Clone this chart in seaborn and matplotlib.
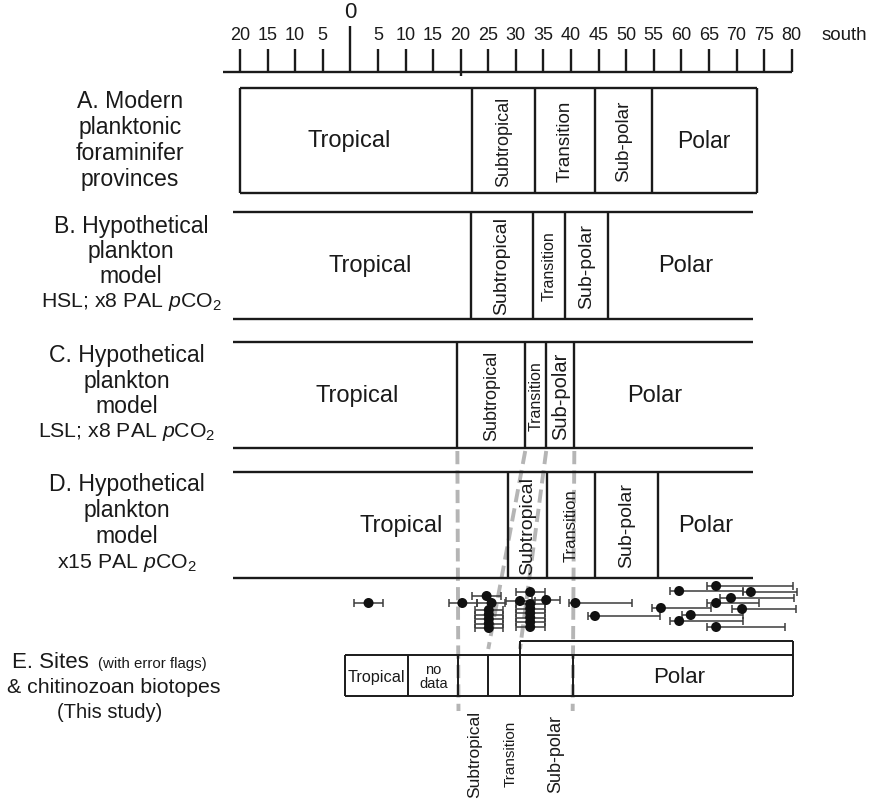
import numpy as np
import pandas as pd
import matplotlib
matplotlib.use("Agg")
import matplotlib.pyplot as plt
import seaborn as sns

# ---------------- data ----------------
tick_lats = list(range(-20, 81, 5))
tick_labels = ["20", "15", "10", "5", "0", "5", "10", "15", "20", "25", "30", "35",
               "40", "45", "50", "55", "60", "65", "70", "75", "80"]

prov_names = ["Tropical", "Subtropical", "Transition", "Sub-polar", "Polar"]
A_bounds = [-20.0, 22.05, 33.5, 44.35, 54.6, 73.7]
B_bounds = [-21.3, 21.9, 33.1, 38.9, 46.7, 73.0]
C_bounds = [-21.3, 19.4, 31.7, 35.5, 40.6, 73.0]
D_bounds = [-21.3, 28.5, 35.7, 44.35, 55.8, 73.0]

E_cells = ["Tropical", "no\ndata", "", "", "", "Polar"]
E_bounds = [-1.0, 10.5, 19.6, 25.0, 30.75, 40.3, 80.3]
E_upper = [30.75, 80.3]
E_below_names = ["Subtropical", "Transition", "Sub-polar"]

site_lat = [3.3, 20.3, 24.7, 25.6, 25.1, 25.1, 25.1, 25.1, 25.1,
            32.6, 30.75, 35.5, 32.6, 32.6, 32.6, 32.6, 32.6, 32.6,
            40.8, 44.35, 56.3, 59.6, 66.3, 72.6, 69.0, 66.3, 71.0, 61.7, 59.6, 66.3]
site_lo = [0.7, 17.8, 22.1, 22.9, 22.6, 22.6, 22.6, 22.6, 22.6,
           30.0, 28.3, 32.9, 30.0, 30.0, 30.0, 30.0, 30.0, 30.0,
           39.6, 43.1, 54.6, 57.9, 64.6, 71.2, 67.0, 64.6, 69.1, 60.1, 57.9, 64.6]
site_hi = [6.0, 22.9, 27.3, 28.0, 27.7, 27.7, 27.7, 27.7, 27.7,
           35.2, 33.5, 38.0, 35.2, 35.2, 35.2, 35.2, 35.2, 35.2,
           51.0, 56.1, 65.4, 71.2, 80.3, 81.0, 80.5, 74.1, 80.8, 71.2, 71.2, 78.8]
site_row = [604, 604, 597, 604, 611, 615.5, 620, 624.5, 629,
            593, 602, 601, 605, 609.5, 614, 618.5, 623, 628,
            604, 617, 609, 592, 587, 593, 599, 604, 610, 616, 622, 628]

# ---------------- layout / style ----------------
W, H = 876, 803
PX0, PXDEG = 240.0, 5.517          # pixel of 20N and pixels per degree


def X(px):
    return (px - PX0) / PXDEG - 20.0


sns.set_theme(style="white")
plt.rcParams["font.family"] = ["Liberation Sans", "DejaVu Sans"]
plt.rcParams["mathtext.fontset"] = "custom"
plt.rcParams["mathtext.rm"] = "Liberation Sans"
plt.rcParams["mathtext.it"] = "Liberation Sans:italic"

fig = plt.figure(figsize=(W / 100, H / 100), dpi=100)
ax = fig.add_axes([0, 0, 1, 1])
ax.set_xlim(X(0), X(W))
ax.set_ylim(H, 0)
ax.axis("off")

K = "#1a1a1a"
LW = 1.7

# top latitude scale
ax.hlines(73, X(223), tick_lats[-1], color=K, lw=LW)
for lat, lab in zip(tick_lats, tick_labels):
    if lat == 0:
        ax.vlines(lat, 27, 73, color=K, lw=LW)
        ax.text(lat, 13, lab, ha="center", va="center", fontsize=16, color=K)
    else:
        ax.vlines(lat, 50, 73 if lat != 20 else 77, color=K, lw=LW)
        ax.text(lat, 35, lab, ha="center", va="center", fontsize=13, color=K)
ax.text(X(822), 35, "south", ha="left", va="center", fontsize=13.5, color=K)

# panels A-D
panels = [
    (A_bounds, 89, 194, True, {0: X(349)}, [17, 13, 13.5, 13.5, 16.5]),
    (B_bounds, 213, 320, False, {0: X(370), 4: X(686)}, [17, 14, 11.5, 14, 17]),
    (C_bounds, 343, 449, False, {0: X(357), 4: X(655)}, [17, 13, 11.5, 14.5, 17]),
    (D_bounds, 473, 579, False, {0: X(401)}, [17, 14, 12, 14, 17]),
]
for bounds, y0, y1, boxed, xover, sizes in panels:
    ax.hlines([y0, y1], bounds[0], bounds[-1], color=K, lw=LW)
    inner = bounds[1:-1]
    ax.vlines(inner, y0, y1, color=K, lw=LW)
    if boxed:
        ax.vlines([bounds[0], bounds[-1]], y0, y1, color=K, lw=LW)
    ym = (y0 + y1) / 2
    for i, name in enumerate(prov_names):
        xc = xover.get(i, (bounds[i] + bounds[i + 1]) / 2)
        rot = 0 if name in ("Tropical", "Polar") else 90
        ax.text(xc, ym, name, ha="center", va="center", rotation=rot,
                fontsize=sizes[i], color=K)

# dashed grey links from panel C boundaries to E boundaries
dash_top = C_bounds[1:5]
dash_bot = E_bounds[2:6]
dash_end = [712, 650, 650, 712]
for xt, xb, ye in zip(dash_top, dash_bot, dash_end):
    ax.plot([xt, xb], [452, ye], color="#b5b5b5", lw=2.8, dashes=(3.4, 1.6),
            solid_capstyle="round", zorder=1)

# panel E boxes
ey0, ey1, eu = 656, 697, 642
ax.hlines([ey0, ey1], E_bounds[0], E_bounds[-1], color=K, lw=1.4, zorder=3)
ax.vlines(E_bounds, ey0, ey1, color=K, lw=1.4, zorder=3)
ax.hlines(eu, E_upper[0], E_upper[1], color=K, lw=1.4, zorder=3)
ax.vlines(E_upper, eu, ey0, color=K, lw=1.4, zorder=3)
e_sizes = [11.7, 10.5, 0, 0, 0, 16]
for i, name in enumerate(E_cells):
    if name:
        xc = (E_bounds[i] + E_bounds[i + 1]) / 2
        if name == "Polar":
            xc = X(679)
        ax.text(xc, (ey0 + ey1) / 2 + 1, name,
                ha="center", va="center", fontsize=e_sizes[i], color=K,
                linespacing=1.0)
below_x = [X(475), X(511), X(556)]
for xc, name, fs in zip(below_x, E_below_names, [12.5, 11, 13]):
    ax.text(xc, 754, name, ha="center", va="center", rotation=90,
            fontsize=fs, color=K)

# sites with error flags
sites = pd.DataFrame({"lat": site_lat, "lo": site_lo, "hi": site_hi, "row": site_row})
ax.errorbar(sites["lat"], sites["row"],
            xerr=[sites["lat"] - sites["lo"], sites["hi"] - sites["lat"]],
            fmt="none", ecolor="#3c3c3c", elinewidth=1.1, capsize=3.2,
            capthick=1.1, zorder=4)
sns.scatterplot(data=sites, x="lat", y="row", ax=ax, color="#111111", s=52,
                edgecolor="none", linewidth=0, zorder=5, legend=False)
ax.set_xlim(X(0), X(W))
ax.set_ylim(H, 0)
ax.axis("off")

# left-hand panel labels
LFS = 16.6
left_labels = [
    (["A. Modern", "planktonic", "foraminifer", "provinces"], 101, 26.3, 130, [LFS] * 4),
    (["B. Hypothetical", "plankton", "model", "HSL; x8 PAL $\\mathit{p}$CO$_2$"],
     226, 25.5, 131, [LFS, LFS, LFS, 15.3]),
    (["C. Hypothetical", "plankton", "model", "LSL; x8 PAL $\\mathit{p}$CO$_2$"],
     356, 25.5, 127, [LFS, LFS, LFS, 15.3]),
    (["D. Hypothetical", "plankton", "model", "x15 PAL $\\mathit{p}$CO$_2$"],
     485, 26, 127, [LFS, LFS, LFS, 15.3]),
]
for lines, y0, step, xc, fss in left_labels:
    for j, (ln, fs) in enumerate(zip(lines, fss)):
        ax.text(X(xc), y0 + j * step, ln, ha="center", va="center",
                fontsize=fs, color=K)
ax.text(X(12), 663, "E. Sites", ha="left", va="center", fontsize=16, color=K)
ax.text(X(98), 664, "(with error flags)", ha="left", va="center", fontsize=10.8, color=K)
ax.text(X(114), 688, "& chitinozoan biotopes", ha="center", va="center", fontsize=15.3, color=K)
ax.text(X(110), 713, "(This study)", ha="center", va="center", fontsize=14.5, color=K)

fig.savefig("out.png", dpi=100)
